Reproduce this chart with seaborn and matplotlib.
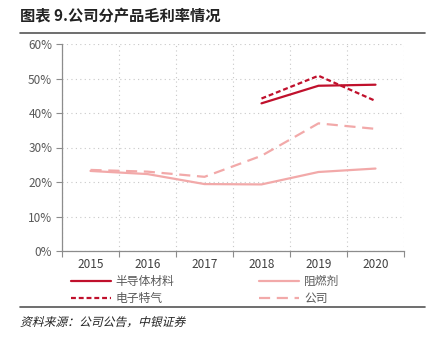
import matplotlib
matplotlib.use("Agg")
import matplotlib.pyplot as plt
from matplotlib.lines import Line2D
from matplotlib.patches import PathPatch
from matplotlib.textpath import TextPath
from matplotlib.font_manager import FontProperties
from matplotlib.transforms import Affine2D
from matplotlib.ticker import FixedLocator, PercentFormatter
import numpy as np
import pandas as pd
import seaborn as sns

# Gross margin by product line (fraction)
years = ["2015", "2016", "2017", "2018", "2019", "2020"]
semiconductor = [np.nan, np.nan, np.nan, 0.428, 0.479, 0.482]
flame_retardant = [0.232, 0.223, 0.194, 0.193, 0.229, 0.239]
electronic_gas = [np.nan, np.nan, np.nan, 0.442, 0.508, 0.435]
company = [0.235, 0.230, 0.215, 0.276, 0.370, 0.354]

series_names = ["半导体材料", "阻燃剂", "电子特气", "公司"]
series_values = [semiconductor, flame_retardant, electronic_gas, company]

dark_red = "#C0102C"
light_pink = "#F2A9A9"
styles = {
    "半导体材料": dict(color=dark_red, dashes=None),
    "阻燃剂": dict(color=light_pink, dashes=None),
    "电子特气": dict(color=dark_red, dashes=(2.2, 1.3)),
    "公司": dict(color=light_pink, dashes=(5, 3)),
}

rows = []
for name, vals in zip(series_names, series_values):
    for i, v in enumerate(vals):
        rows.append({"pos": i, "year": years[i], "series": name, "value": v})
df = pd.DataFrame(rows)

sns.set_theme(style="white")
plt.rcParams["font.family"] = ["Noto Sans CJK SC", "DejaVu Sans"]

fig = plt.figure(figsize=(4.48, 3.41), dpi=100)
ax = fig.add_axes([62 / 448, 1 - 251 / 341, (404 - 62) / 448, (251 - 44) / 341])

handles = {}
for name in series_names:
    st = styles[name]
    sub = df[df["series"] == name].dropna()
    sns.lineplot(data=sub, x="pos", y="value", ax=ax, color=st["color"],
                 linewidth=1.6, legend=False)
    line = ax.get_lines()[-1]
    if st["dashes"]:
        line.set_dashes(st["dashes"])
    h = Line2D([], [], color=st["color"], linewidth=1.6)
    if st["dashes"]:
        h.set_dashes(st["dashes"])
    handles[name] = h

ax.set_xlim(-0.5, len(years) - 0.5)
ax.set_ylim(0, 0.6)
ax.set_xlabel("")
ax.set_ylabel("")

# category labels at band centres, ticks at band edges
ax.set_xticks(range(len(years)))
ax.set_xticklabels(years)
ax.xaxis.set_minor_locator(FixedLocator(np.arange(-0.5, len(years), 1.0)))
ax.tick_params(axis="x", which="major", length=0, labelsize=8.5,
               labelcolor="#404040", pad=5)
ax.tick_params(axis="x", which="minor", length=4, width=0.8,
               color="#8c8c8c", bottom=True)

ax.set_yticks(np.arange(0, 0.61, 0.1))
ax.yaxis.set_major_formatter(PercentFormatter(1.0, decimals=0))
ax.tick_params(axis="y", which="major", length=4, width=0.8, color="#8c8c8c",
               labelsize=8.5, labelcolor="#595959", left=True, pad=3)

ax.grid(False)
ax.yaxis.grid(True, which="major", linestyle=(0, (1, 3)), color="#c8c8c8",
              linewidth=0.8)
ax.xaxis.grid(True, which="minor", linestyle=(0, (1, 3)), color="#c8c8c8",
              linewidth=0.8)
ax.set_axisbelow(True)

for s in ["top", "right"]:
    ax.spines[s].set_visible(False)
for s in ["left", "bottom"]:
    ax.spines[s].set_color("#8c8c8c")
    ax.spines[s].set_linewidth(0.9)

# legend filled column by column: left column solid/dotted dark red
legend_order = ["半导体材料", "电子特气", "阻燃剂", "公司"]
leg = fig.legend([handles[n] for n in legend_order], legend_order, ncol=2,
                 loc="upper left", bbox_to_anchor=(66 / 448, 1 - 270 / 341),
                 frameon=False, fontsize=8.5, handlelength=3.4,
                 handletextpad=0.4, columnspacing=7.2, labelspacing=0.35,
                 borderaxespad=0)
for t in leg.get_texts():
    t.set_color("#595959")

# title, rules and source note
fig.text(20 / 448, 1 - 16 / 341, "图表 9.公司分产品毛利率情况", fontsize=11,
         fontweight="bold", color="#222222", va="center", ha="left")
fig.add_artist(Line2D([20 / 448, 425 / 448], [1 - 33 / 341, 1 - 33 / 341],
                      color="#555555", linewidth=1.2))
fig.add_artist(Line2D([20 / 448, 425 / 448], [1 - 307 / 341, 1 - 307 / 341],
                      color="#555555", linewidth=1.2))

# slanted source note (the CJK face has no italic, so shear the glyph outlines)
src_path = TextPath((0, 0), "资料来源：公司公告，中银证券", size=8.5,
                    prop=FontProperties(family="Noto Sans CJK SC"))
src_tf = (Affine2D().skew_deg(14, 0).scale(1 / 72)
          .translate(20 / 100, (341 - 326) / 100) + fig.dpi_scale_trans)
fig.add_artist(PathPatch(src_path, transform=src_tf, facecolor="#222222",
                         edgecolor="none"))

fig.savefig("out.png", dpi=100)
